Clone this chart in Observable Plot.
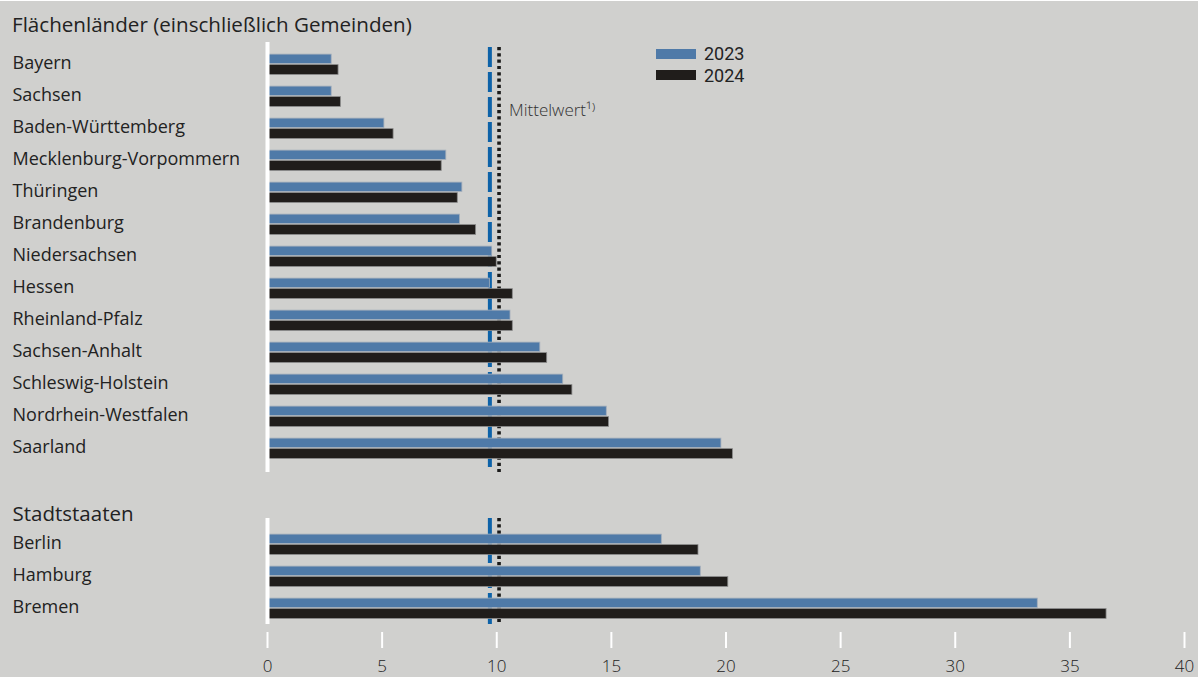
<!DOCTYPE html>
<html>
<head>
<meta charset="utf-8">
<script src="https://cdn.jsdelivr.net/npm/d3@7"></script>
<script src="https://cdn.jsdelivr.net/npm/@observablehq/plot@0.6"></script>
<style>
  html, body { margin: 0; padding: 0; }
  body { width: 1198px; height: 677px; background: #d0d0ce; font-family: "Open Sans", sans-serif; color: #222; position: relative; overflow: hidden; border-top: 1px solid #fff; box-sizing: border-box; }
  #title { height: 39px; box-sizing: border-box; padding: 10px 0 0 12px; font-size: 20.6px; line-height: 26px; color: #222; }
  #legend { position: absolute; left: 656px; top: 42px; font-size: 18px; font-family: Roboto, "Open Sans", sans-serif; }
  #legend div { display: flex; align-items: center; height: 21.5px; }
  #legend span.sw { display: inline-block; width: 40px; height: 10px; margin-right: 8px; }
  #legend span.lt { display: inline-block; height: 19px; line-height: 19px; overflow: visible; }
  svg { display: block; }
</style>
</head>
<body>
<div id="title">Flächenländer (einschließlich Gemeinden)</div>
<div id="legend"></div>
<div id="chart"></div>
<script>
// ---- data ----
const flaechenlaender = ["Bayern","Sachsen","Baden-Württemberg","Mecklenburg-Vorpommern","Thüringen","Brandenburg","Niedersachsen","Hessen","Rheinland-Pfalz","Sachsen-Anhalt","Schleswig-Holstein","Nordrhein-Westfalen","Saarland"];
const werte2023Flaeche = [2.8, 2.8, 5.1, 7.8, 8.5, 8.4, 9.8, 9.7, 10.6, 11.9, 12.9, 14.8, 19.8];
const werte2024Flaeche = [3.1, 3.2, 5.5, 7.6, 8.3, 9.1, 10.0, 10.7, 10.7, 12.2, 13.3, 14.9, 20.3];
const stadtstaaten = ["Berlin","Hamburg","Bremen"];
const werte2023Stadt = [17.2, 18.9, 33.6];
const werte2024Stadt = [18.8, 20.1, 36.6];
const mittelwert2023 = 9.7;
const mittelwert2024 = 10.1;
const jahre = ["2023","2024"];
const farben = ["#4f7aa8","#201d1b"];
const xTicks = [0,5,10,15,20,25,30,35,40];
const gruppenTitel = "Stadtstaaten";
const mittelwertLabel = "Mittelwert¹⁾";

// ---- derived tables ----
const rows = [...flaechenlaender, "__gap", gruppenTitel, ...stadtstaaten];
const laender = [...flaechenlaender, ...stadtstaaten];
const data2023 = laender.map((l, i) => ({land: l, wert: [...werte2023Flaeche, ...werte2023Stadt][i]}));
const data2024 = laender.map((l, i) => ({land: l, wert: [...werte2024Flaeche, ...werte2024Stadt][i]}));
const panels = [{y1: flaechenlaender[0], y2: flaechenlaender[flaechenlaender.length-1]}];
const panelsS = [{y1: stadtstaaten[0], y2: stadtstaaten[stadtstaaten.length-1]}];

const font = "'Open Sans', sans-serif";

const chart = Plot.plot({
  width: 1198,
  height: 637,
  marginLeft: 267,
  marginRight: 14,
  marginTop: 5.9,
  marginBottom: 51.5,
  style: {background: "transparent", fontFamily: font, color: "#222"},
  x: {domain: [0, 40], axis: null, label: null},
  y: {type: "band", domain: rows, padding: 0, axis: null},
  marks: [
    // mean lines (behind bars)
    Plot.ruleX(panels, {x: () => mittelwert2023, y1: "y1", y2: "y2", stroke: "#0d62a8", strokeWidth: 4, strokeDasharray: "20,5", insetTop: -1, insetBottom: -8}),
    Plot.ruleX(panels, {x: () => mittelwert2024, y1: "y1", y2: "y2", stroke: "#1a1a1a", strokeWidth: 3.6, strokeDasharray: "3.2,3.1", insetTop: -1, insetBottom: -8}),
    Plot.ruleX(panelsS, {x: () => mittelwert2023, y1: "y1", y2: "y2", stroke: "#0d62a8", strokeWidth: 4, strokeDasharray: "20,5", insetTop: -10, insetBottom: 0}),
    Plot.ruleX(panelsS, {x: () => mittelwert2024, y1: "y1", y2: "y2", stroke: "#1a1a1a", strokeWidth: 3.6, strokeDasharray: "3.2,3.1", insetTop: -10, insetBottom: 0}),
    // bars
    Plot.barX(data2023, {x: "wert", y: "land", fill: farben[0], stroke: "#a4aebb", strokeWidth: 0.8, insetTop: 6.1, insetBottom: 16.6}),
    Plot.barX(data2024, {x: "wert", y: "land", fill: farben[1], stroke: "#8a8a8a", strokeWidth: 0.8, insetTop: 16.6, insetBottom: 5.6}),
    // white baselines
    Plot.ruleX(panels, {x: () => 0, y1: "y1", y2: "y2", stroke: "#fff", strokeWidth: 4, insetTop: -6, insetBottom: -8}),
    Plot.ruleX(panelsS, {x: () => 0, y1: "y1", y2: "y2", stroke: "#fff", strokeWidth: 4, insetTop: -10, insetBottom: 0}),
    // row labels
    Plot.text(laender, {y: d => d, frameAnchor: "left", textAnchor: "start", dx: -255, dy: -1, fontSize: 18, fill: "#222"}),
    Plot.text([gruppenTitel], {y: d => d, frameAnchor: "left", textAnchor: "start", dx: -255, dy: 2, fontSize: 20.5, fill: "#222"}),
    // mean label
    Plot.text([mittelwertLabel], {x: () => mittelwert2024, y: () => flaechenlaender[1], dx: 10, dy: 14, textAnchor: "start", fontSize: 17, fill: "#333", fontWeight: 300}),
    // x axis
    Plot.axisX(xTicks, {anchor: "bottom", label: null, tickSize: 16, tickPadding: 11, dy: 6.5, stroke: "#fff", strokeWidth: 2, fontSize: 17, fill: "#222", fontWeight: 300, tickFormat: d => d})
  ]
});
document.getElementById("chart").appendChild(chart);

// legend
const leg = document.getElementById("legend");
jahre.forEach((j, i) => {
  const row = document.createElement("div");
  row.innerHTML = `<span class="sw" style="background:${farben[i]}"></span><span class="lt">${j}</span>`;
  leg.appendChild(row);
});
</script>
</body>
</html>
